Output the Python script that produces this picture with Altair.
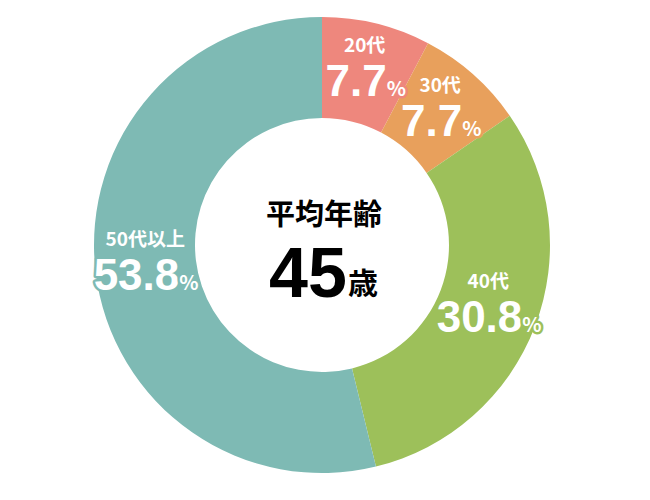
import altair as alt
import pandas as pd

cats = ["20代", "30代", "40代", "50代以上"]
pcts = [7.7, 7.7, 30.8, 53.8]
pct_labels = ["7.7", "7.7", "30.8", "53.8"]
colors = ["#EE877D", "#E8A05C", "#9DC05A", "#7EBAB4"]

center_title = "平均年齢"
center_value = "45"
center_unit = "歳"

df = pd.DataFrame({
    "cat": cats,
    "pct": pcts,
    "num": pct_labels,
    "idx": list(range(len(cats))),
})
df["sym"] = "%"

NUMFONT = "Liberation Sans"
JPFONT = "Noto Sans CJK JP"

cscale = alt.Scale(domain=cats, range=colors)

base = alt.Chart(df).encode(
    theta=alt.Theta("pct:Q", stack=True),
    order=alt.Order("idx:Q"),
)

arc = base.mark_arc(outerRadius=228, innerRadius=127).encode(
    color=alt.Color("cat:N", scale=cscale, legend=None)
)

R = 178

def label_layers(field, **kw):
    outline = base.mark_text(radius=R, strokeWidth=5,
                             strokeJoin="round", **kw).encode(
        text=f"{field}:N",
        color=alt.Color("cat:N", scale=cscale, legend=None),
        stroke=alt.Stroke("cat:N", scale=cscale, legend=None),
    )
    front = base.mark_text(radius=R, color="white", **kw).encode(
        text=f"{field}:N",
    )
    return [outline, front]

# offset of the number/percent junction depends on the number's length
num_dx = alt.expr("length(datum.num) > 3 ? 34 : 22")

layers = [arc]
layers += label_layers("cat", font=JPFONT, fontWeight="bold", fontSize=19,
                       baseline="alphabetic", align="center", dy=-20)
layers += label_layers("num", font=NUMFONT, fontWeight="bold", fontSize=44,
                       baseline="alphabetic", align="right", dx=num_dx, dy=24)
layers += label_layers("sym", font=JPFONT, fontWeight="bold", fontSize=20,
                       baseline="alphabetic", align="left", dx=num_dx, dy=24)

cdf = pd.DataFrame({"t": [center_title], "v": [center_value], "u": [center_unit]})
cbase = alt.Chart(cdf)
title_t = cbase.mark_text(font=JPFONT, fontWeight="bold", fontSize=29,
                          color="black", baseline="alphabetic", align="center").encode(
    text="t:N", x=alt.value(316), y=alt.value(217))
value_t = cbase.mark_text(font=NUMFONT, fontWeight="bold", fontSize=70,
                          color="black", baseline="alphabetic", align="center").encode(
    text="v:N", x=alt.value(300), y=alt.value(289))
unit_t = cbase.mark_text(font=JPFONT, fontWeight="bold", fontSize=30,
                         color="black", baseline="alphabetic", align="center").encode(
    text="u:N", x=alt.value(355), y=alt.value(286))

chart = alt.layer(*layers, title_t, value_t, unit_t).properties(
    width=628, height=474, padding=0, background="white"
).configure_view(stroke=None)

chart.save("out.html", embed_options={"renderer": "svg", "actions": False})
